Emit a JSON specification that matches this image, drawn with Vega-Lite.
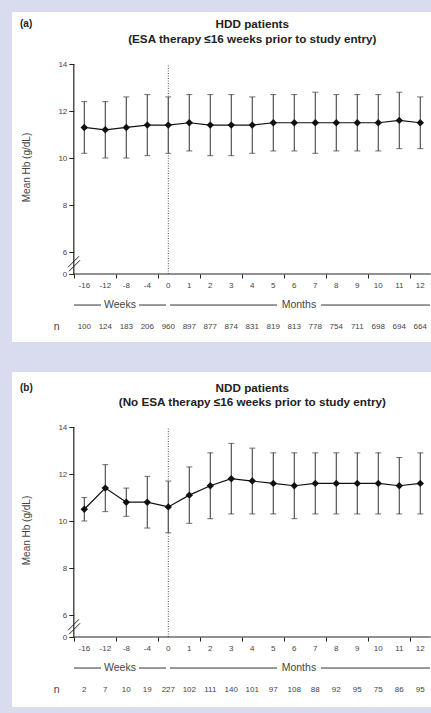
{
  "$schema": "https://vega.github.io/schema/vega-lite/v6.json",
  "background": "#d8dcee",
  "padding": {"left": 12, "top": 12, "right": 0, "bottom": 6},
  "spacing": 30,
  "config": {
    "font": "Liberation Sans",
    "view": {"stroke": null},
    "text": {"font": "Liberation Sans", "color": "#444"}
  },
  "datasets": {
    "hdd": [
      {"x": 0, "label": "-16", "y": 11.3, "lo": 10.2, "hi": 12.4, "n": 100},
      {"x": 1, "label": "-12", "y": 11.2, "lo": 10.0, "hi": 12.4, "n": 124},
      {"x": 2, "label": "-8", "y": 11.3, "lo": 10.0, "hi": 12.6, "n": 183},
      {"x": 3, "label": "-4", "y": 11.4, "lo": 10.1, "hi": 12.7, "n": 206},
      {"x": 4, "label": "0", "y": 11.4, "lo": 10.2, "hi": 12.6, "n": 960},
      {"x": 5, "label": "1", "y": 11.5, "lo": 10.3, "hi": 12.7, "n": 897},
      {"x": 6, "label": "2", "y": 11.4, "lo": 10.1, "hi": 12.7, "n": 877},
      {"x": 7, "label": "3", "y": 11.4, "lo": 10.1, "hi": 12.7, "n": 874},
      {"x": 8, "label": "4", "y": 11.4, "lo": 10.2, "hi": 12.6, "n": 831},
      {"x": 9, "label": "5", "y": 11.5, "lo": 10.3, "hi": 12.7, "n": 819},
      {"x": 10, "label": "6", "y": 11.5, "lo": 10.3, "hi": 12.7, "n": 813},
      {"x": 11, "label": "7", "y": 11.5, "lo": 10.2, "hi": 12.8, "n": 778},
      {"x": 12, "label": "8", "y": 11.5, "lo": 10.3, "hi": 12.7, "n": 754},
      {"x": 13, "label": "9", "y": 11.5, "lo": 10.3, "hi": 12.7, "n": 711},
      {"x": 14, "label": "10", "y": 11.5, "lo": 10.3, "hi": 12.7, "n": 698},
      {"x": 15, "label": "11", "y": 11.6, "lo": 10.4, "hi": 12.8, "n": 694},
      {"x": 16, "label": "12", "y": 11.5, "lo": 10.4, "hi": 12.6, "n": 664}
    ],
    "ndd": [
      {"x": 0, "label": "-16", "y": 10.5, "lo": 10.0, "hi": 11.0, "n": 2},
      {"x": 1, "label": "-12", "y": 11.4, "lo": 10.4, "hi": 12.4, "n": 7},
      {"x": 2, "label": "-8", "y": 10.8, "lo": 10.2, "hi": 11.4, "n": 10},
      {"x": 3, "label": "-4", "y": 10.8, "lo": 9.7, "hi": 11.9, "n": 19},
      {"x": 4, "label": "0", "y": 10.6, "lo": 9.5, "hi": 11.7, "n": 227},
      {"x": 5, "label": "1", "y": 11.1, "lo": 9.9, "hi": 12.3, "n": 102},
      {"x": 6, "label": "2", "y": 11.5, "lo": 10.1, "hi": 12.9, "n": 111},
      {"x": 7, "label": "3", "y": 11.8, "lo": 10.3, "hi": 13.3, "n": 140},
      {"x": 8, "label": "4", "y": 11.7, "lo": 10.3, "hi": 13.1, "n": 101},
      {"x": 9, "label": "5", "y": 11.6, "lo": 10.3, "hi": 12.9, "n": 97},
      {"x": 10, "label": "6", "y": 11.5, "lo": 10.1, "hi": 12.9, "n": 108},
      {"x": 11, "label": "7", "y": 11.6, "lo": 10.3, "hi": 12.9, "n": 88},
      {"x": 12, "label": "8", "y": 11.6, "lo": 10.3, "hi": 12.9, "n": 92},
      {"x": 13, "label": "9", "y": 11.6, "lo": 10.3, "hi": 12.9, "n": 95},
      {"x": 14, "label": "10", "y": 11.6, "lo": 10.3, "hi": 12.9, "n": 75},
      {"x": 15, "label": "11", "y": 11.5, "lo": 10.3, "hi": 12.7, "n": 86},
      {"x": 16, "label": "12", "y": 11.6, "lo": 10.3, "hi": 12.9, "n": 95}
    ],
    "axislines": [
      {"x": -0.5, "x2": 16.5, "y": 0, "y2": 0},
      {"x": -0.5, "x2": -0.5, "y": 0, "y2": 14}
    ],
    "breaks": [
      {"x": -0.776, "x2": -0.252, "y": 1.83, "y2": 4.83},
      {"x": -0.729, "x2": -0.205, "y": 0.74, "y2": 3.74}
    ],
    "baseline": [
      {"x": 4, "y": 0, "y2": 14}
    ],
    "brackets": [
      {"x": -0.49, "x2": 0.795, "y": -1.94},
      {"x": 2.605, "x2": 3.89, "y": -1.94},
      {"x": 4.08, "x2": 9.18, "y": -1.94},
      {"x": 11.27, "x2": 16.46, "y": -1.94}
    ],
    "bracketText": [
      {"x": 1.7, "y": -1.94, "text": "Weeks"},
      {"x": 10.22, "y": -1.94, "text": "Months"},
      {"x": -1.31, "y": -3.31, "text": "n"}
    ],
    "titleA": [
      {"x": 8, "y": 15.68, "text": "HDD patients"},
      {"x": 8, "y": 15.05, "text": "(ESA therapy ≤16 weeks prior to study entry)"}
    ],
    "tagA": [{"x": -3.06, "y": 15.68, "text": "(a)"}],
    "titleB": [
      {"x": 8, "y": 15.68, "text": "NDD patients"},
      {"x": 8, "y": 15.05, "text": "(No ESA therapy ≤16 weeks prior to study entry)"}
    ],
    "tagB": [{"x": -3.06, "y": 15.68, "text": "(b)"}]
  },
  "vconcat": [
    {
      "width": 419,
      "height": 330,
      "view": {"fill": "white", "stroke": null},
      "layer": [
        {
          "data": {"name": "hdd"},
          "mark": {"type": "rule", "color": "#444", "strokeWidth": 1.1},
          "encoding": {
            "x": {
              "field": "x", "type": "quantitative",
              "scale": {"domain": [-3.443, 16.51], "nice": false, "zero": false},
              "axis": {
                "orient": "bottom", "offset": -68, "title": null,
                "values": [-0.5, 0.5, 1.5, 2.5, 3.5, 4.5, 5.5, 6.5, 7.5, 8.5, 9.5, 10.5, 11.5, 12.5, 13.5, 14.5, 15.5, 16.5],
                "labels": false, "domain": false, "grid": false,
                "tickSize": 4, "tickColor": "#222", "tickWidth": 1
              }
            },
            "y": {
              "field": "lo", "type": "quantitative",
              "scale": {"domain": [-4.25, 0, 6, 14, 16.21], "range": [330, 262, 240, 52, 0], "nice": false, "zero": false},
              "axis": {
                "orient": "left", "offset": -61.8, "values": [0, 6, 8, 10, 12, 14],
                "domain": false, "grid": false, "tickSize": 5, "tickColor": "#222",
                "labelFontSize": 8, "labelColor": "#444", "labelPadding": 2,
                "title": "Mean Hb (g/dL)", "titleFontSize": 10, "titleFontWeight": "normal",
                "titleColor": "#444", "titleX": -47, "titleY": 155, "titleBaseline": "middle"
              }
            },
            "y2": {"field": "hi"}
          }
        },
        {
          "data": {"name": "hdd"},
          "mark": {"type": "tick", "orient": "horizontal", "size": 6, "thickness": 1.1, "color": "#444"},
          "encoding": {"x": {"field": "x", "type": "quantitative"}, "y": {"field": "lo", "type": "quantitative"}}
        },
        {
          "data": {"name": "hdd"},
          "mark": {"type": "tick", "orient": "horizontal", "size": 6, "thickness": 1.1, "color": "#444"},
          "encoding": {"x": {"field": "x", "type": "quantitative"}, "y": {"field": "hi", "type": "quantitative"}}
        },
        {
          "data": {"name": "baseline"},
          "mark": {"type": "rule", "color": "#555", "strokeWidth": 1, "strokeDash": [1, 1.5]},
          "encoding": {"x": {"field": "x", "type": "quantitative"}, "y": {"field": "y", "type": "quantitative"}, "y2": {"field": "y2"}}
        },
        {
          "data": {"name": "axislines"},
          "mark": {"type": "rule", "color": "#222", "strokeWidth": 1.2},
          "encoding": {"x": {"field": "x", "type": "quantitative"}, "x2": {"field": "x2"}, "y": {"field": "y", "type": "quantitative"}, "y2": {"field": "y2"}}
        },
        {
          "data": {"name": "breaks"},
          "mark": {"type": "rule", "color": "#222", "strokeWidth": 1},
          "encoding": {"x": {"field": "x", "type": "quantitative"}, "x2": {"field": "x2"}, "y": {"field": "y", "type": "quantitative"}, "y2": {"field": "y2"}}
        },
        {
          "data": {"name": "hdd"},
          "mark": {"type": "line", "color": "#111", "strokeWidth": 1.2},
          "encoding": {"x": {"field": "x", "type": "quantitative"}, "y": {"field": "y", "type": "quantitative"}}
        },
        {
          "data": {"name": "hdd"},
          "mark": {"type": "point", "shape": "diamond", "filled": true, "color": "#111", "size": 55, "opacity": 1},
          "encoding": {"x": {"field": "x", "type": "quantitative"}, "y": {"field": "y", "type": "quantitative"}}
        },
        {
          "data": {"name": "hdd"},
          "transform": [{"calculate": "-0.75", "as": "ylab"}],
          "mark": {"type": "text", "fontSize": 8, "baseline": "middle", "align": "center", "color": "#444"},
          "encoding": {"x": {"field": "x", "type": "quantitative"}, "y": {"field": "ylab", "type": "quantitative"}, "text": {"field": "label"}}
        },
        {
          "data": {"name": "hdd"},
          "transform": [{"calculate": "-3.31", "as": "yn"}],
          "mark": {"type": "text", "fontSize": 8, "baseline": "middle", "align": "center", "color": "#444"},
          "encoding": {"x": {"field": "x", "type": "quantitative"}, "y": {"field": "yn", "type": "quantitative"}, "text": {"field": "n"}}
        },
        {
          "data": {"name": "brackets"},
          "mark": {"type": "rule", "color": "#333", "strokeWidth": 1},
          "encoding": {"x": {"field": "x", "type": "quantitative"}, "x2": {"field": "x2"}, "y": {"field": "y", "type": "quantitative"}}
        },
        {
          "data": {"name": "bracketText"},
          "mark": {"type": "text", "fontSize": 10.5, "baseline": "middle", "align": "center", "color": "#444"},
          "encoding": {"x": {"field": "x", "type": "quantitative"}, "y": {"field": "y", "type": "quantitative"}, "text": {"field": "text"}}
        },
        {
          "data": {"name": "titleA"},
          "mark": {"type": "text", "fontSize": 11.7, "fontWeight": "bold", "baseline": "middle", "align": "center", "color": "#222"},
          "encoding": {"x": {"field": "x", "type": "quantitative"}, "y": {"field": "y", "type": "quantitative"}, "text": {"field": "text"}}
        },
        {
          "data": {"name": "tagA"},
          "mark": {"type": "text", "fontSize": 10, "fontWeight": "bold", "baseline": "middle", "align": "left", "color": "#222"},
          "encoding": {"x": {"field": "x", "type": "quantitative"}, "y": {"field": "y", "type": "quantitative"}, "text": {"field": "text"}}
        }
      ]
    },
    {
      "width": 419,
      "height": 335,
      "view": {"fill": "white", "stroke": null},
      "layer": [
        {
          "data": {"name": "ndd"},
          "mark": {"type": "rule", "color": "#444", "strokeWidth": 1.1},
          "encoding": {
            "x": {
              "field": "x", "type": "quantitative",
              "scale": {"domain": [-3.443, 16.51], "nice": false, "zero": false},
              "axis": {
                "orient": "bottom", "offset": -70, "title": null,
                "values": [-0.5, 0.5, 1.5, 2.5, 3.5, 4.5, 5.5, 6.5, 7.5, 8.5, 9.5, 10.5, 11.5, 12.5, 13.5, 14.5, 15.5, 16.5],
                "labels": false, "domain": false, "grid": false,
                "tickSize": 4, "tickColor": "#222", "tickWidth": 1
              }
            },
            "y": {
              "field": "lo", "type": "quantitative",
              "scale": {"domain": [-4.375, 0, 6, 14, 16.34], "range": [335, 265, 243, 55, 0], "nice": false, "zero": false},
              "axis": {
                "orient": "left", "offset": -61.8, "values": [0, 6, 8, 10, 12, 14],
                "domain": false, "grid": false, "tickSize": 5, "tickColor": "#222",
                "labelFontSize": 8, "labelColor": "#444", "labelPadding": 2,
                "title": "Mean Hb (g/dL)", "titleFontSize": 10, "titleFontWeight": "normal",
                "titleColor": "#444", "titleX": -47, "titleY": 158, "titleBaseline": "middle"
              }
            },
            "y2": {"field": "hi"}
          }
        },
        {
          "data": {"name": "ndd"},
          "mark": {"type": "tick", "orient": "horizontal", "size": 6, "thickness": 1.1, "color": "#444"},
          "encoding": {"x": {"field": "x", "type": "quantitative"}, "y": {"field": "lo", "type": "quantitative"}}
        },
        {
          "data": {"name": "ndd"},
          "mark": {"type": "tick", "orient": "horizontal", "size": 6, "thickness": 1.1, "color": "#444"},
          "encoding": {"x": {"field": "x", "type": "quantitative"}, "y": {"field": "hi", "type": "quantitative"}}
        },
        {
          "data": {"name": "baseline"},
          "mark": {"type": "rule", "color": "#555", "strokeWidth": 1, "strokeDash": [1, 1.5]},
          "encoding": {"x": {"field": "x", "type": "quantitative"}, "y": {"field": "y", "type": "quantitative"}, "y2": {"field": "y2"}}
        },
        {
          "data": {"name": "axislines"},
          "mark": {"type": "rule", "color": "#222", "strokeWidth": 1.2},
          "encoding": {"x": {"field": "x", "type": "quantitative"}, "x2": {"field": "x2"}, "y": {"field": "y", "type": "quantitative"}, "y2": {"field": "y2"}}
        },
        {
          "data": {"name": "breaks"},
          "mark": {"type": "rule", "color": "#222", "strokeWidth": 1},
          "encoding": {"x": {"field": "x", "type": "quantitative"}, "x2": {"field": "x2"}, "y": {"field": "y", "type": "quantitative"}, "y2": {"field": "y2"}}
        },
        {
          "data": {"name": "ndd"},
          "mark": {"type": "line", "color": "#111", "strokeWidth": 1.2},
          "encoding": {"x": {"field": "x", "type": "quantitative"}, "y": {"field": "y", "type": "quantitative"}}
        },
        {
          "data": {"name": "ndd"},
          "mark": {"type": "point", "shape": "diamond", "filled": true, "color": "#111", "size": 55, "opacity": 1},
          "encoding": {"x": {"field": "x", "type": "quantitative"}, "y": {"field": "y", "type": "quantitative"}}
        },
        {
          "data": {"name": "ndd"},
          "transform": [{"calculate": "-0.75", "as": "ylab"}],
          "mark": {"type": "text", "fontSize": 8, "baseline": "middle", "align": "center", "color": "#444"},
          "encoding": {"x": {"field": "x", "type": "quantitative"}, "y": {"field": "ylab", "type": "quantitative"}, "text": {"field": "label"}}
        },
        {
          "data": {"name": "ndd"},
          "transform": [{"calculate": "-3.31", "as": "yn"}],
          "mark": {"type": "text", "fontSize": 8, "baseline": "middle", "align": "center", "color": "#444"},
          "encoding": {"x": {"field": "x", "type": "quantitative"}, "y": {"field": "yn", "type": "quantitative"}, "text": {"field": "n"}}
        },
        {
          "data": {"name": "brackets"},
          "mark": {"type": "rule", "color": "#333", "strokeWidth": 1},
          "encoding": {"x": {"field": "x", "type": "quantitative"}, "x2": {"field": "x2"}, "y": {"field": "y", "type": "quantitative"}}
        },
        {
          "data": {"name": "bracketText"},
          "mark": {"type": "text", "fontSize": 10.5, "baseline": "middle", "align": "center", "color": "#444"},
          "encoding": {"x": {"field": "x", "type": "quantitative"}, "y": {"field": "y", "type": "quantitative"}, "text": {"field": "text"}}
        },
        {
          "data": {"name": "titleB"},
          "mark": {"type": "text", "fontSize": 11.7, "fontWeight": "bold", "baseline": "middle", "align": "center", "color": "#222"},
          "encoding": {"x": {"field": "x", "type": "quantitative"}, "y": {"field": "y", "type": "quantitative"}, "text": {"field": "text"}}
        },
        {
          "data": {"name": "tagB"},
          "mark": {"type": "text", "fontSize": 10, "fontWeight": "bold", "baseline": "middle", "align": "left", "color": "#222"},
          "encoding": {"x": {"field": "x", "type": "quantitative"}, "y": {"field": "y", "type": "quantitative"}, "text": {"field": "text"}}
        }
      ]
    }
  ]
}
